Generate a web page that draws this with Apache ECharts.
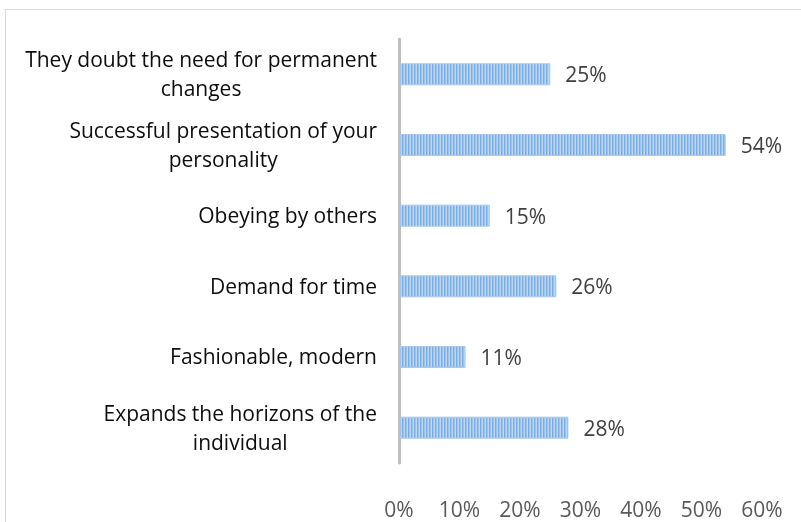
<!DOCTYPE html>
<html>
<head>
<meta charset="utf-8">
<script src="https://cdn.jsdelivr.net/npm/echarts@6/dist/echarts.min.js"></script>
<style>
  html, body { margin: 0; padding: 0; background: #fff; }
  #frame {
    position: absolute; left: 5px; top: 9px;
    width: 820px; height: 540px;
    border: 1px solid #d9d9d9;
  }
  #chart { position: absolute; left: 0; top: 0; width: 801px; height: 522px; }
</style>
</head>
<body>
<div id="frame"></div>
<div id="chart"></div>
<script>
  // bottom-to-top order, as the category axis draws them
  const categories = [
    ['Expands the horizons of the', 'individual'],
    ['Fashionable, modern'],
    ['Demand for time'],
    ['Obeying by others'],
    ['Successful presentation of your', 'personality'],
    ['They doubt the need for permanent', 'changes']
  ]
  const shares = [28, 11, 26, 15, 54, 25]
  const ticks = [0, 10, 20, 30, 40, 50, 60]

  // striped fill like the office-style bar pattern
  function stripes() {
    const c = document.createElement('canvas')
    c.width = 3
    c.height = 4
    const g = c.getContext('2d')
    g.fillStyle = '#7aaee3'
    g.fillRect(0, 0, 1, 4)
    g.fillStyle = '#9cc3ec'
    g.fillRect(1, 0, 1, 4)
    g.fillStyle = '#bdd7f1'
    g.fillRect(2, 0, 1, 4)
    return c
  }

  const chart = echarts.init(document.getElementById('chart'))
  chart.setOption({
    animation: false,
    grid: { left: 399, right: 39, top: 39, bottom: 54 },
    xAxis: {
      type: 'value',
      min: ticks[0],
      max: ticks[ticks.length - 1],
      interval: 10,
      splitLine: { show: false },
      axisLine: { show: false },
      axisTick: { show: false },
      axisLabel: {
        formatter: v => v + '%',
        color: '#595959',
        fontFamily: 'Open Sans',
        fontSize: 21,
        margin: 38
      }
    },
    yAxis: {
      type: 'category',
      data: categories.map(c => c.join('\n')),
      axisLine: { show: true, lineStyle: { color: '#bfbfbf', width: 3 } },
      axisTick: { show: false },
      axisLabel: {
        margin: 22,
        formatter: (v) => v.split('\n').map(l => '{c|' + l + '}').join('\n'),
        rich: {
          c: {
            align: 'center',
            color: '#0d0d0d',
            fontFamily: 'Open Sans',
            fontSize: 21,
            lineHeight: 29,
            padding: [3, 0, 0, 0]
          }
        }
      }
    },
    series: [{
      type: 'bar',
      data: shares,
      barWidth: 22,
      itemStyle: {
        color: { image: stripes(), repeat: 'repeat' },
        borderColor: '#a9c9ec',
        borderWidth: 1
      },
      label: {
        show: true,
        position: 'right',
        distance: 15,
        offset: [0, 2],
        formatter: p => p.value + '%',
        color: '#404040',
        fontFamily: 'Open Sans',
        fontSize: 21
      }
    }]
  })
</script>
</body>
</html>
